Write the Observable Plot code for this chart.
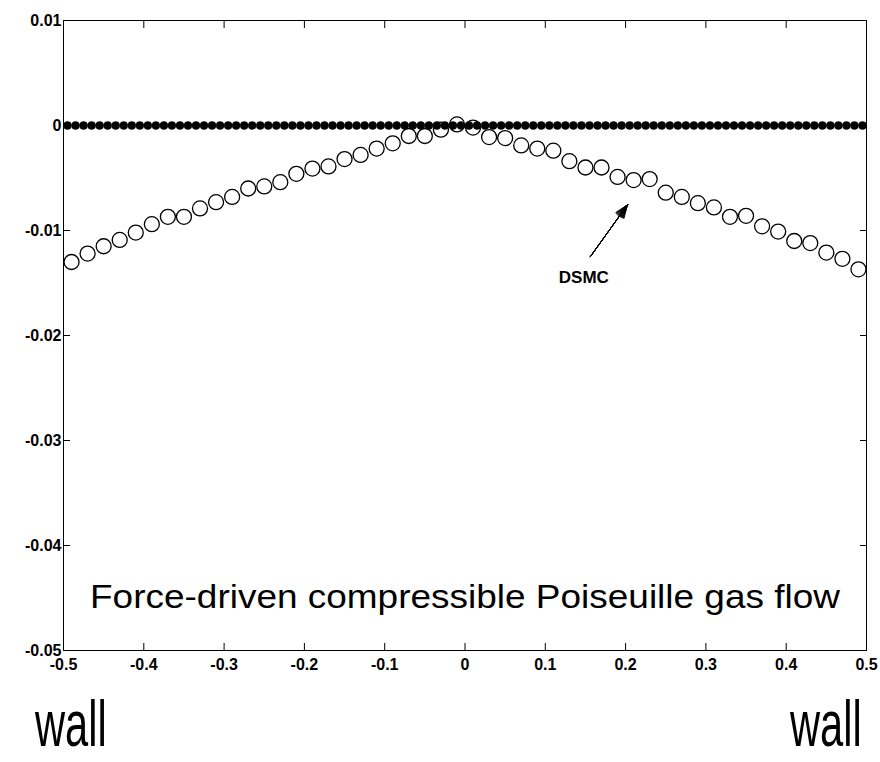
<!DOCTYPE html>
<html>
<head>
<meta charset="utf-8">
<script src="https://cdn.jsdelivr.net/npm/d3@7"></script>
<script src="https://cdn.jsdelivr.net/npm/@observablehq/plot@0.6"></script>
<style>
  html, body { margin: 0; padding: 0; background: #fff; }
  #wrap { width: 880px; position: relative; font-family: "Liberation Sans", Arial, sans-serif; }
  #walls { position: relative; width: 880px; height: 82px; }
  .wall { position: absolute; top: 12px; font-size: 64px; line-height: 1; color: #000; transform-origin: left top; transform: scaleX(0.65); }
</style>
</head>
<body>
<div id="wrap">
  <div id="chart"></div>
  <div id="walls"><span class="wall" id="wallL">wall</span><span class="wall" id="wallR">wall</span></div>
</div>
<script>
// ---- data ----
const xTicks = [-0.5, -0.4, -0.3, -0.2, -0.1, 0, 0.1, 0.2, 0.3, 0.4, 0.5];
const xTickLabels = ["-0.5", "-0.4", "-0.3", "-0.2", "-0.1", "0", "0.1", "0.2", "0.3", "0.4", "0.5"];
const yTicks = [0.01, 0, -0.01, -0.02, -0.03, -0.04, -0.05];
const yTickLabels = ["0.01", "0", "-0.01", "-0.02", "-0.03", "-0.04", "-0.05"];

// DSMC open circles
const dsmcX = [-0.49, -0.47, -0.45, -0.43, -0.41, -0.39, -0.37, -0.35, -0.33, -0.31,
               -0.29, -0.27, -0.25, -0.23, -0.21, -0.19, -0.17, -0.15, -0.13, -0.11,
               -0.09, -0.07, -0.05, -0.03, -0.01, 0.01, 0.03, 0.05, 0.07, 0.09,
               0.11, 0.13, 0.15, 0.17, 0.19, 0.21, 0.23, 0.25, 0.27, 0.29,
               0.31, 0.33, 0.35, 0.37, 0.39, 0.41, 0.43, 0.45, 0.47, 0.49];
const dsmcY = [-0.0130, -0.0122, -0.0115, -0.0109, -0.0102, -0.0094, -0.0087, -0.0087, -0.0079, -0.0073,
               -0.0068, -0.0060, -0.0058, -0.0054, -0.0046, -0.0041, -0.0039, -0.0032, -0.0028, -0.0022,
               -0.0017, -0.0010, -0.0010, -0.0004, 0.0001, -0.0002, -0.0011, -0.0012, -0.0019, -0.0022,
               -0.0024, -0.0034, -0.0040, -0.0040, -0.0049, -0.0052, -0.0051, -0.0064, -0.0068, -0.0074,
               -0.0078, -0.0087, -0.0086, -0.0096, -0.0101, -0.0110, -0.0112, -0.0121, -0.0127, -0.0137];

// filled-dot series (lies on zero)
const solidX = [-0.495, -0.485, -0.475, -0.465, -0.455, -0.445, -0.435, -0.425, -0.415, -0.405,
                -0.395, -0.385, -0.375, -0.365, -0.355, -0.345, -0.335, -0.325, -0.315, -0.305,
                -0.295, -0.285, -0.275, -0.265, -0.255, -0.245, -0.235, -0.225, -0.215, -0.205,
                -0.195, -0.185, -0.175, -0.165, -0.155, -0.145, -0.135, -0.125, -0.115, -0.105,
                -0.095, -0.085, -0.075, -0.065, -0.055, -0.045, -0.035, -0.025, -0.015, -0.005,
                0.005, 0.015, 0.025, 0.035, 0.045, 0.055, 0.065, 0.075, 0.085, 0.095,
                0.105, 0.115, 0.125, 0.135, 0.145, 0.155, 0.165, 0.175, 0.185, 0.195,
                0.205, 0.215, 0.225, 0.235, 0.245, 0.255, 0.265, 0.275, 0.285, 0.295,
                0.305, 0.315, 0.325, 0.335, 0.345, 0.355, 0.365, 0.375, 0.385, 0.395,
                0.405, 0.415, 0.425, 0.435, 0.445, 0.455, 0.465, 0.475, 0.485, 0.495];
const solidY = solidX.map(() => 0);

// annotations
const titleText = ["Force-driven compressible Poiseuille gas flow"];
const titlePos = [0.0, -0.0449];
const dsmcLabel = ["DSMC"];
const dsmcLabelPos = [0.148, -0.01444];
const arrowFrom = [0.156, -0.0125];
const arrowTo = [0.2024, -0.00755];
const arrowAngles = [6, 12, 18, 24, 30, 36, 42];
const wallLabels = ["wall", "wall"];

// ---- build ----
const dsmc = dsmcX.map((x, i) => ({x, y: dsmcY[i]}));
const solid = solidX.map((x, i) => ({x, y: solidY[i]}));
const xFmt = d => xTickLabels[xTicks.indexOf(d)];
const yFmt = d => yTickLabels[yTicks.indexOf(d)];

const chart = Plot.plot({
  width: 880,
  height: 680,
  marginLeft: 63,
  marginRight: 14,
  marginTop: 20,
  marginBottom: 30,
  style: {fontFamily: "'Liberation Sans', Arial, sans-serif", fontSize: "16px", fontWeight: "bold", color: "#000", background: "#fff"},
  x: {domain: [-0.5, 0.5]},
  y: {domain: [-0.05, 0.01]},
  marks: [
    Plot.axisX({anchor: "bottom", ticks: xTicks, tickSize: -7, tickPadding: 15, tickFormat: xFmt, label: null, fontWeight: "bold", fontSize: 16}),
    Plot.axisX({anchor: "top", ticks: xTicks, tickSize: -7, tickFormat: () => "", label: null}),
    Plot.axisY({anchor: "left", ticks: yTicks, tickSize: -7, tickPadding: 9, tickFormat: yFmt, label: null, fontWeight: "bold", fontSize: 16}),
    Plot.axisY({anchor: "right", ticks: yTicks, tickSize: -7, tickFormat: () => "", label: null}),
    Plot.dot(solid, {x: "x", y: "y", r: 4, fill: "black", stroke: "black", strokeWidth: 0.5}),
    Plot.dot(dsmc, {x: "x", y: "y", r: 7.5, fill: "none", stroke: "black", strokeWidth: 1.3}),
    ...arrowAngles.map(a => Plot.arrow([0], {x1: () => arrowFrom[0], y1: () => arrowFrom[1], x2: () => arrowTo[0], y2: () => arrowTo[1], headAngle: a, headLength: 21, stroke: "black", strokeWidth: 1})),
    Plot.text(dsmcLabel, {x: () => dsmcLabelPos[0], y: () => dsmcLabelPos[1], text: d => d, fontSize: 17, fontWeight: "bold", fill: "black"}),
    Plot.text(titleText, {x: () => titlePos[0], y: () => titlePos[1], text: d => d, fontSize: 34, fontWeight: "normal", fill: "black", className: "bigtitle"}),
    Plot.frame({stroke: "black", strokeWidth: 1})
  ]
});
document.getElementById("chart").appendChild(chart);

// stretch the in-plot caption to the reference's width
chart.querySelectorAll(".bigtitle text").forEach(t => {
  t.setAttribute("textLength", 750);
  t.setAttribute("lengthAdjust", "spacingAndGlyphs");
});

document.getElementById("wallL").textContent = wallLabels[0];
document.getElementById("wallR").textContent = wallLabels[1];
document.getElementById("wallL").style.left = "35px";
document.getElementById("wallR").style.left = "790px";
</script>
</body>
</html>
